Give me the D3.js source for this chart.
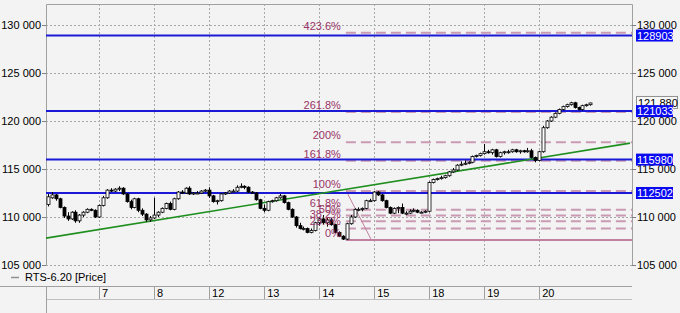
<!DOCTYPE html>
<html>
<head>
<meta charset="utf-8">
<script src="https://cdn.jsdelivr.net/npm/d3@7"></script>
<style>
    body { margin: 0; background: #f3f3f3; }
    svg { display: block; font-family: "Liberation Sans", Arial, sans-serif; font-size: 11px; }
</style>
</head>
<body>
<svg id="chart" width="680" height="313"></svg>
<script>
// hourly candles RTS-6.20, [open, high, low, close], one array per session day
const days = ['6', '7', '8', '12', '13', '14', '15', '18', '19', '20'];

const day06 = [
    [111300, 112400, 111100, 112100], [112000, 112600, 111900, 112300], [112300, 112400, 111700, 111900],
    [111900, 112000, 110900, 111000], [111000, 111100, 109900, 110100], [110100, 110500, 109600, 109800],
    [109800, 110600, 109700, 110500], [110500, 110700, 109400, 109600], [109600, 110300, 109400, 110200],
    [110200, 110600, 110000, 110500], [110500, 110900, 110400, 110800], [110800, 110900, 110600, 110700],
    [110700, 110800, 109900, 110000]
];
const day07 = [
    [110000, 111300, 109900, 111200], [111200, 112200, 111100, 112000], [112000, 112900, 111900, 112800],
    [112800, 113000, 112600, 112700], [112700, 113000, 112600, 112900], [112900, 113200, 112700, 113000],
    [113000, 113100, 112300, 112400], [112400, 112500, 111500, 111600], [111600, 111800, 110800, 111000],
    [111000, 112000, 110900, 111900], [111900, 112000, 110500, 110700], [110700, 110900, 110100, 110300],
    [110300, 110400, 109500, 109700], [109700, 110100, 109500, 109900]
];
const day08 = [
    [109900, 112000, 109800, 110200], [110200, 110600, 110000, 110500], [110500, 111000, 110400, 110900],
    [110900, 111500, 110800, 111400], [111400, 111600, 110700, 110800], [110800, 112000, 110700, 111900],
    [111900, 112700, 111800, 112600], [112600, 112800, 112400, 112500], [112500, 113100, 112400, 113000],
    [113000, 113200, 112300, 112400], [112400, 112600, 112300, 112500], [112500, 112700, 112400, 112500],
    [112500, 112800, 112400, 112700], [112700, 112900, 112600, 112800]
];
const day12 = [
    [112800, 113100, 112000, 112200], [112200, 112300, 111500, 111600], [111600, 111800, 111300, 111700],
    [111700, 112500, 111600, 112400], [112400, 112600, 112300, 112500], [112500, 112800, 112400, 112700],
    [112700, 112900, 112600, 112700], [112700, 113300, 112600, 113100], [113100, 113500, 113000, 113200],
    [113200, 113300, 112900, 113100], [113100, 113200, 112500, 112600], [112600, 112700, 112400, 112500],
    [112500, 112600, 111700, 111800], [111800, 111900, 110800, 110900]
];
const day13 = [
    [110900, 111300, 110500, 110700], [110700, 111700, 110600, 111600], [111600, 111800, 111500, 111700],
    [111700, 112100, 111600, 112000], [112000, 112400, 111900, 112200], [112200, 112300, 111400, 111500],
    [111500, 111600, 110700, 110800], [110800, 110900, 109900, 110000], [110000, 110100, 108900, 109100],
    [109100, 109400, 108700, 108800], [108800, 109000, 108600, 108800], [108800, 108900, 108300, 108400],
    [108400, 108800, 108300, 108600], [108600, 109500, 108500, 109400]
];
const day14 = [
    [109400, 110000, 109100, 109800], [109800, 110200, 109200, 109400], [109400, 109900, 109000, 109700],
    [109700, 109900, 109100, 109200], [109200, 109300, 108300, 108400], [108400, 108500, 107900, 108000],
    [108000, 108100, 107600, 107700], [107700, 109400, 107600, 109300], [109300, 110200, 109200, 110000],
    [110000, 110900, 109900, 110800], [110800, 111000, 110600, 110800], [110800, 111000, 110600, 110900],
    [110900, 111800, 110800, 111700], [111700, 111900, 111600, 111700]
];
const day15 = [
    [111700, 112700, 111600, 112600], [112600, 112700, 112200, 112300], [112300, 112400, 111600, 111700],
    [111700, 111800, 110900, 111000], [111000, 111100, 110300, 110400], [110400, 111000, 110300, 110900],
    [110900, 111100, 110400, 111000], [111000, 111400, 110300, 110400], [110400, 110600, 110200, 110400],
    [110400, 110800, 110300, 110600], [110600, 110900, 110500, 110700], [110700, 110800, 110400, 110500],
    [110500, 110600, 110400, 110500], [110500, 110700, 110400, 110600]
];
const day18 = [
    [110600, 113700, 110500, 113600], [113600, 114000, 113500, 113900], [113900, 114100, 113800, 114000],
    [114000, 114300, 113900, 114100], [114100, 114400, 114000, 114300], [114300, 114800, 114200, 114700],
    [114700, 115100, 114600, 114900], [114900, 115500, 114800, 115400], [115400, 115800, 115300, 115500],
    [115500, 115900, 115400, 115600], [115600, 115800, 115500, 115700], [115700, 116400, 115600, 116300],
    [116300, 116500, 116200, 116400], [116400, 116700, 116300, 116600]
];
const day19 = [
    [116600, 117600, 116500, 116800], [116800, 117000, 116600, 116700], [116700, 117100, 116500, 117000],
    [117000, 117100, 116200, 116300], [116300, 116800, 116200, 116700], [116700, 116900, 116500, 116800],
    [116800, 117000, 116600, 116800], [116800, 117100, 116700, 117000], [117000, 117100, 116700, 116800],
    [116800, 117000, 116600, 116900], [116900, 117000, 116700, 116800], [116800, 117200, 116700, 116900],
    [116900, 117100, 116100, 116200], [116200, 116300, 115700, 115900]
];
const day20 = [
    [115900, 116900, 115800, 116800], [116800, 119500, 116700, 119300], [119300, 120100, 119200, 120000],
    [120000, 120500, 119900, 120400], [120400, 120900, 120300, 120800], [120800, 121300, 120700, 121200],
    [121200, 121600, 121100, 121500], [121500, 121800, 121400, 121700], [121700, 122000, 121600, 121900],
    [121900, 122000, 121300, 121400], [121400, 121500, 121100, 121200], [121200, 121700, 121100, 121600],
    [121600, 121800, 121500, 121700], [121700, 121900, 121600, 121880]
];
const dayBars = [day06, day07, day08, day12, day13, day14, day15, day18, day19, day20];

const yTicks = [105000, 110000, 115000, 120000, 125000, 130000];
const levelLines = [128903, 121033, 115980, 112502];
const lastPrice = 121880;

// fibonacci tool
const fibLow = 107600, fibHigh = 112700;
const fibLevels = [0, 23.6, 38.2, 50, 61.8, 100, 161.8, 200, 261.8, 423.6];
const fibStartSlot = 76.8;
const fibDiagonal = [[76.9, fibHigh], [83.3, fibLow]];

// trend line
const trend = [[0.5, 107800], [149.1, 117700]];

const legendLabel = 'RTS-6.20 [Price]';

// ---------------------------------------------------------------
const perDay = 14;
const candles = [];
dayBars.forEach((rows, k) => {
    const shift = k === 0 ? perDay - rows.length : 0;
    rows.forEach((r, j) => candles.push({
        slot: k * perDay + j + shift, o: r[0], h: r[1], l: r[2], c: r[3]
    }));
});

const plot = { left: 46, right: 632, top: 4, bottom: 265 };
const x = d3.scaleLinear().domain([0.5, 149.6]).range([plot.left, plot.right]);
const y = d3.scaleLinear().domain([105000, 132190]).range([plot.bottom, plot.top]);

const svg = d3.select('#chart');
const fmt = v => d3.format(',')(v).replace(/,/g, ' ');
const gridCol = '#a8a8a8';

svg.append('defs').append('clipPath').attr('id', 'clip')
    .append('rect')
    .attr('x', plot.left).attr('y', plot.top)
    .attr('width', plot.right - plot.left).attr('height', plot.bottom - plot.top);

// grid
const grid = svg.append('g');
grid.selectAll('.hg').data(yTicks).enter().append('line')
    .attr('x1', plot.left).attr('x2', plot.right)
    .attr('y1', d => Math.round(y(d)) + 0.5).attr('y2', d => Math.round(y(d)) + 0.5)
    .attr('stroke', gridCol).attr('stroke-dasharray', '2,2');
const daySlots = days.map((d, k) => ({ label: d, slot: k * perDay })).slice(1);
grid.selectAll('.vg').data(daySlots).enter().append('line')
    .attr('x1', d => Math.round(x(d.slot)) + 0.5).attr('x2', d => Math.round(x(d.slot)) + 0.5)
    .attr('y1', plot.top).attr('y2', plot.bottom)
    .attr('stroke', gridCol).attr('stroke-dasharray', '2,2');

// frame
svg.append('path')
    .attr('d', `M${plot.left + 0.5},${plot.bottom}V${plot.top + 0.5}H${plot.right + 0.5}V${plot.bottom}`)
    .attr('fill', 'none').attr('stroke', '#a0a0a0');

// axes ticks + labels
const leftAx = svg.append('g');
leftAx.selectAll('line').data(yTicks).enter().append('line')
    .attr('x1', plot.left - 4).attr('x2', plot.left)
    .attr('y1', d => Math.round(y(d)) + 0.5).attr('y2', d => Math.round(y(d)) + 0.5)
    .attr('stroke', '#808080');
leftAx.selectAll('text').data(yTicks).enter().append('text')
    .attr('x', plot.left - 5).attr('y', d => y(d) + 4)
    .attr('text-anchor', 'end').attr('fill', '#000')
    .text(fmt);

const rightAx = svg.append('g');
rightAx.selectAll('line').data(yTicks).enter().append('line')
    .attr('x1', plot.right).attr('x2', plot.right + 4)
    .attr('y1', d => Math.round(y(d)) + 0.5).attr('y2', d => Math.round(y(d)) + 0.5)
    .attr('stroke', '#808080');
rightAx.selectAll('text').data(yTicks).enter().append('text')
    .attr('x', plot.right + 5).attr('y', d => y(d) + 4)
    .attr('fill', '#000')
    .text(fmt);

const body = svg.append('g').attr('clip-path', 'url(#clip)');

// fibonacci lines
const fibPrice = lv => fibLow + (fibHigh - fibLow) * lv / 100;
body.selectAll('.fib').data(fibLevels).enter().append('line')
    .attr('x1', x(fibStartSlot)).attr('x2', plot.right)
    .attr('y1', d => y(fibPrice(d))).attr('y2', d => y(fibPrice(d)))
    .attr('stroke', d => d === 0 ? '#c27f9f' : '#c99ab2')
    .attr('stroke-width', 2)
    .attr('stroke-dasharray', d => d === 0 ? null : '10,5');
body.append('line')
    .attr('x1', x(fibDiagonal[0][0])).attr('y1', y(fibDiagonal[0][1]))
    .attr('x2', x(fibDiagonal[1][0])).attr('y2', y(fibDiagonal[1][1]))
    .attr('stroke', '#c27f9f').attr('stroke-width', 1);

// horizontal levels
body.selectAll('.lvl').data(levelLines).enter().append('line')
    .attr('x1', plot.left).attr('x2', plot.right)
    .attr('y1', d => y(d)).attr('y2', d => y(d))
    .attr('stroke', '#1a1ad6').attr('stroke-width', 2);

// trend line
body.append('line')
    .attr('x1', x(trend[0][0])).attr('y1', y(trend[0][1]))
    .attr('x2', x(trend[1][0])).attr('y2', y(trend[1][1]))
    .attr('stroke', '#1f8f1f').attr('stroke-width', 1.6);

// candles
const bw = 3;
const cg = body.append('g');
const cs = cg.selectAll('g').data(candles).enter().append('g');
cs.append('line')
    .attr('x1', d => Math.round(x(d.slot)) + 0.5).attr('x2', d => Math.round(x(d.slot)) + 0.5)
    .attr('y1', d => y(d.h)).attr('y2', d => y(d.l))
    .attr('stroke', '#000');
cs.append('rect')
    .attr('x', d => Math.round(x(d.slot)) - 1)
    .attr('y', d => y(Math.max(d.o, d.c)))
    .attr('width', bw)
    .attr('height', d => Math.max(1, Math.abs(y(d.o) - y(d.c))))
    .attr('fill', d => d.c >= d.o ? '#fff' : '#000')
    .attr('stroke', '#000').attr('stroke-width', 0.8);

// fib labels
svg.selectAll('.fibLbl').data(fibLevels).enter().append('text')
    .attr('x', x(fibStartSlot) - 5)
    .attr('y', d => y(fibPrice(d)) - 3)
    .attr('text-anchor', 'end')
    .attr('fill', '#993366')
    .text(d => d + '%');

// last price (drawn under the level boxes)
svg.append('rect')
    .attr('x', plot.right + 4.5).attr('y', y(lastPrice) - 6.5)
    .attr('width', 41).attr('height', 12)
    .attr('fill', '#f8f8f8').attr('stroke', '#909090');
svg.append('text')
    .attr('x', plot.right + 6).attr('y', y(lastPrice) + 4)
    .attr('fill', '#000')
    .text(lastPrice.toString().replace(/(\d{3})$/, ' $1'));

// right level labels
const lv = svg.selectAll('.lvlLbl').data(levelLines).enter().append('g');
lv.append('rect')
    .attr('x', plot.right + 4).attr('y', d => y(d) - 6)
    .attr('width', 37).attr('height', 12)
    .attr('fill', '#0a0af0');
lv.append('text')
    .attr('x', plot.right + 5).attr('y', d => y(d) + 4)
    .attr('fill', '#fff')
    .text(d => d);

// legend
svg.append('line')
    .attr('x1', 11).attr('x2', 19).attr('y1', 277.5).attr('y2', 277.5)
    .attr('stroke', '#909090').attr('stroke-width', 1.5);
svg.append('text').attr('x', 25).attr('y', 281).attr('fill', '#000').text(legendLabel);

// time axis
const ta = svg.append('g');
ta.append('line').attr('x1', 0).attr('x2', plot.right).attr('y1', 286.5).attr('y2', 286.5).attr('stroke', '#a0a0a0');
ta.append('line').attr('x1', plot.left).attr('x2', plot.right).attr('y1', 299.5).attr('y2', 299.5).attr('stroke', '#c0c0c0');
ta.append('line').attr('x1', plot.left + 0.5).attr('x2', plot.left + 0.5).attr('y1', 286).attr('y2', 313).attr('stroke', '#a0a0a0');
ta.selectAll('.dt').data(daySlots).enter().append('line')
    .attr('x1', d => Math.round(x(d.slot)) + 0.5).attr('x2', d => Math.round(x(d.slot)) + 0.5)
    .attr('y1', 286).attr('y2', 299)
    .attr('stroke', '#a0a0a0');
ta.selectAll('text').data(daySlots).enter().append('text')
    .attr('x', d => x(d.slot) + 3).attr('y', 297)
    .attr('fill', '#000')
    .text(d => d.label);
</script>
</body>
</html>
